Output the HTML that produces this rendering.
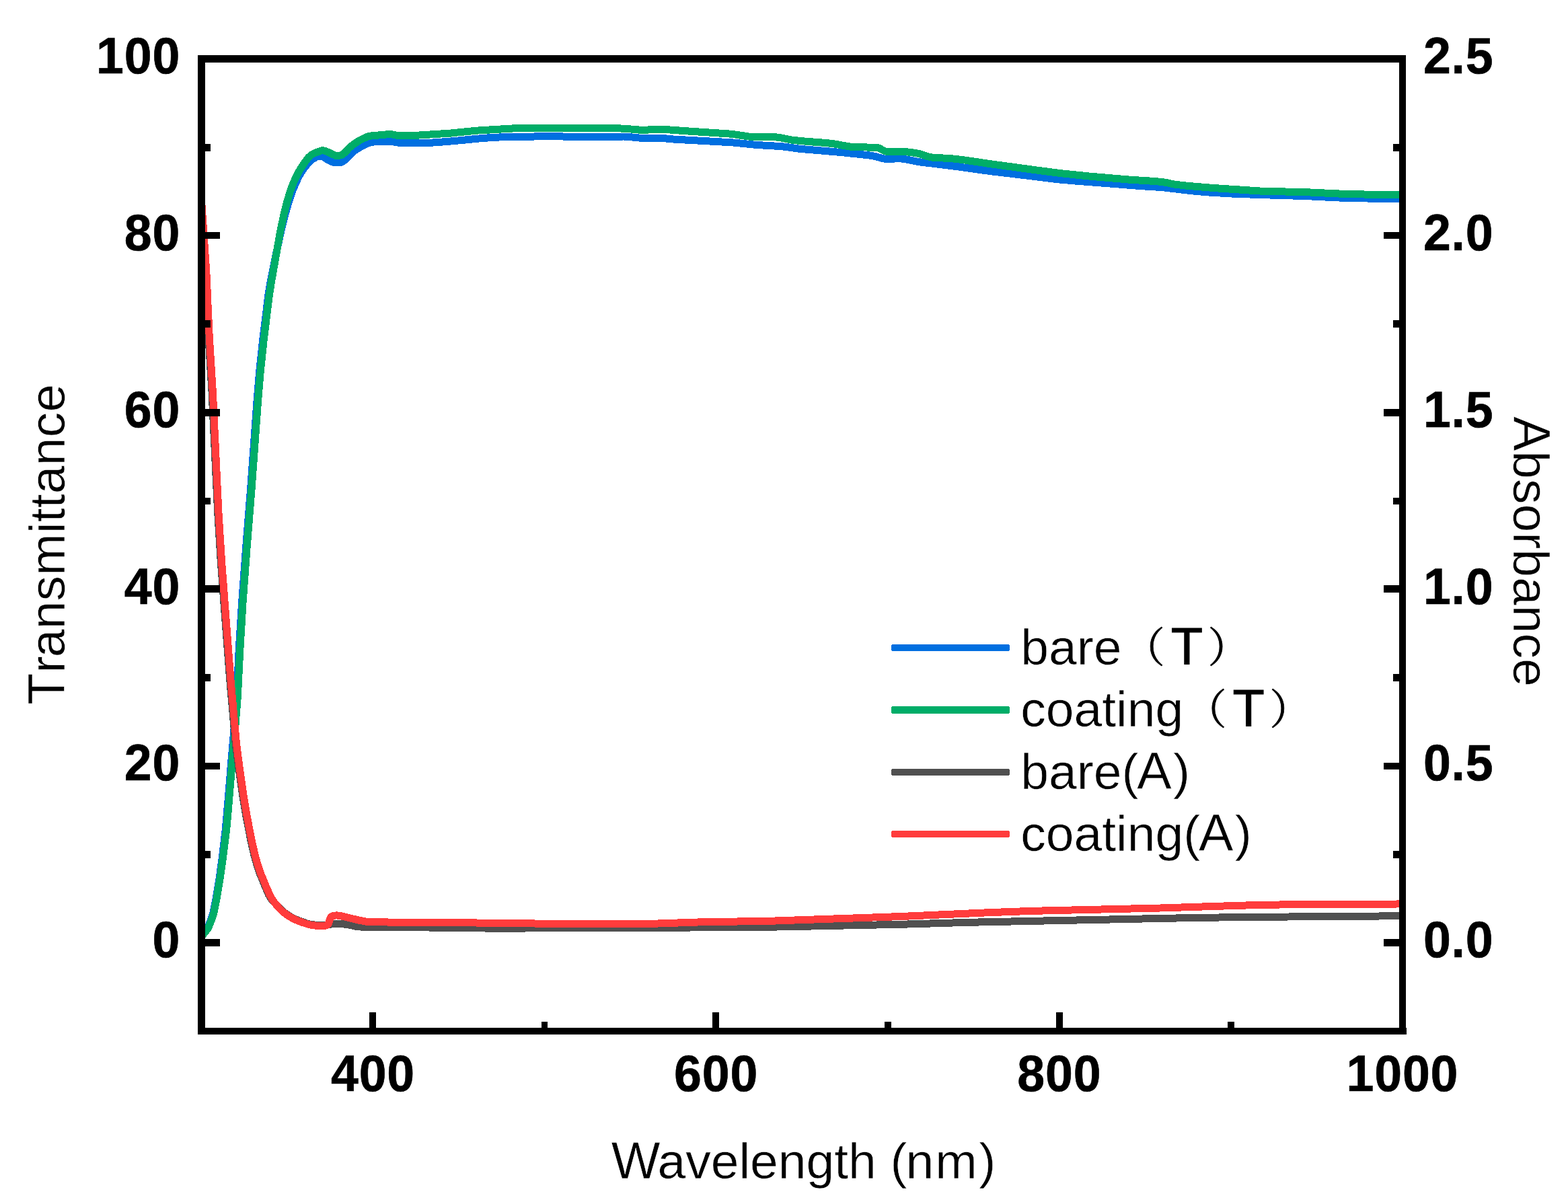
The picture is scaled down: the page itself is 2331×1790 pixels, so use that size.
<!DOCTYPE html>
<html lang="en">
<head>
<meta charset="utf-8">
<title>Transmittance and absorbance spectra</title>
<style>
html,body{margin:0;padding:0;background:#fff;}
body{width:2331px;height:1790px;overflow:hidden;}
svg{display:block;}
text{font-family:"Liberation Sans", "Noto Serif CJK SC", sans-serif;font-size:75px;fill:#000;stroke:#fff;stroke-width:0.5px;}
.tick text{font-weight:700;font-size:73.5px;letter-spacing:0.83px;stroke:#000;stroke-width:0.6px;}
.cap{font-size:77px;}
.capT{font-size:77.5px;stroke:#000;stroke-width:1px;}
.cjk{font-size:62px;stroke:#000;stroke-width:0.7px;}
.curve{fill:none;stroke-width:11;stroke-linejoin:round;stroke-linecap:butt;shape-rendering:crispEdges;}
</style>
</head>
<body>
<svg xmlns="http://www.w3.org/2000/svg" width="2331" height="1790" viewBox="0 0 2331 1790">
<rect x="0" y="0" width="2331" height="1790" fill="#fff"/>
<defs><clipPath id="plot"><rect x="299" y="88" width="1782" height="1445"/></clipPath></defs>
<g clip-path="url(#plot)">
<polyline class="curve" stroke="#006fe0" points="299.5,1392.5 303.6,1386.2 308.0,1380.2 310.2,1375.7 314.8,1364.0 316.9,1356.8 320.9,1337.2 326.2,1305.1 330.6,1272.9 335.5,1230.7 339.8,1180.8 344.1,1128.5 348.0,1083.6 351.8,1036.2 355.2,966.3 359.9,891.4 366.0,809.1 372.6,726.8 382.0,597.0 385.7,552.2 391.0,502.4 399.0,437.9 401.8,420.6 408.6,386.3 417.5,344.7 423.4,320.4 429.7,298.7 434.5,284.5 439.3,273.0 444.7,261.6 448.4,255.2 454.4,247.1 460.9,239.5 462.7,237.7 469.3,233.9 471.6,232.8 474.0,232.4 478.9,232.7 481.2,233.5 485.5,236.4 492.2,240.1 494.5,241.0 499.3,241.9 501.8,242.0 506.8,241.3 509.0,240.5 511.2,239.1 517.0,234.1 523.7,226.6 527.6,223.6 534.0,219.6 545.2,213.8 549.9,212.2 557.2,210.6 562.2,210.5 572.2,210.7 584.7,210.8 594.6,212.5 599.6,212.5 609.6,212.2 642.1,212.1 662.1,210.7 684.5,208.7 709.4,206.2 734.4,204.2 746.8,203.9 784.4,203.8 804.3,202.2 814.3,202.2 861.8,203.9 926.9,203.0 934.3,203.4 949.3,205.0 959.3,205.2 981.8,205.2 1001.7,207.1 1056.7,210.1 1089.1,211.9 1124.0,215.4 1161.4,217.6 1173.8,219.2 1188.7,221.3 1218.6,223.8 1251.0,226.6 1290.8,230.8 1300.7,232.4 1312.9,235.8 1317.8,236.7 1322.7,236.7 1332.7,235.7 1337.7,235.7 1345.1,236.5 1364.8,240.5 1389.6,243.6 1419.4,247.2 1471.4,254.5 1536.0,262.2 1570.8,266.6 1598.2,269.0 1648.1,272.8 1692.9,276.4 1727.9,278.6 1772.6,283.9 1795.0,285.9 1832.5,288.1 1877.5,289.7 1942.5,291.6 1990.0,294.0 2037.5,295.1 2085.0,295.1"/>
<polyline class="curve" stroke="#00ad68" points="299.5,1392.5 307.4,1382.8 308.8,1380.7 311.0,1376.3 315.7,1364.6 317.8,1357.5 321.8,1337.9 327.2,1305.8 331.3,1276.1 336.9,1231.4 340.2,1194.1 345.5,1129.3 349.7,1082.0 353.4,1034.6 356.6,969.7 361.1,894.8 367.4,810.0 374.2,725.3 383.6,595.6 387.1,553.3 392.4,503.6 400.3,439.0 403.4,419.3 416.9,343.0 422.1,318.5 427.0,299.1 431.3,284.7 435.7,273.0 440.8,261.6 445.6,252.8 452.4,242.3 458.4,234.3 462.0,230.9 464.1,229.4 468.5,227.2 478.0,223.8 480.4,223.7 482.8,224.2 489.9,227.1 496.6,230.4 499.0,231.3 501.5,231.5 506.4,230.9 508.7,229.8 512.7,226.8 519.6,219.5 525.4,214.8 533.8,209.2 540.4,205.8 545.0,203.7 547.4,202.8 552.2,201.9 572.2,200.2 577.2,199.6 579.7,199.5 582.1,199.7 589.5,201.2 604.5,201.7 617.0,201.4 669.4,198.1 691.8,195.8 709.2,194.1 771.6,190.4 791.6,190.2 901.6,190.3 929.1,191.2 951.5,193.2 961.5,193.1 976.5,192.4 991.5,192.7 1018.9,194.7 1083.8,199.0 1093.8,200.1 1113.6,203.1 1121.0,203.8 1153.5,203.9 1158.5,204.4 1168.3,206.4 1178.2,208.3 1198.0,210.2 1230.5,212.7 1240.4,214.0 1262.6,217.9 1270.1,218.6 1302.6,219.3 1305.0,219.5 1307.3,220.3 1314.1,224.2 1316.5,225.1 1318.8,225.3 1336.4,225.0 1346.4,225.6 1361.2,227.5 1366.1,228.5 1380.5,233.0 1385.4,234.0 1400.3,234.9 1415.3,235.8 1432.7,237.8 1472.3,243.7 1549.1,254.1 1578.9,257.9 1621.1,262.2 1680.9,267.3 1710.9,269.1 1728.3,270.5 1735.7,271.9 1745.5,274.0 1765.3,276.3 1805.2,279.6 1877.6,284.3 1915.1,285.1 1947.6,286.0 1992.5,288.1 2040.0,289.3 2085.0,289.6"/>
<polyline class="curve" stroke="#505050" points="298.2,298.0 305.6,405.3 309.5,492.7 314.9,580.0 323.7,762.3 328.4,837.2 341.8,1011.7 350.2,1106.3 353.8,1133.6 361.2,1185.6 366.6,1217.6 373.4,1252.0 377.9,1271.5 381.9,1285.9 385.9,1297.7 396.4,1323.3 399.5,1330.2 401.9,1334.5 404.7,1338.5 418.5,1353.1 424.3,1357.8 430.5,1362.1 437.1,1365.7 444.0,1368.6 455.8,1372.8 460.7,1374.1 468.1,1375.1 475.6,1375.4 485.6,1375.0 490.5,1374.3 495.4,1373.4 500.4,1373.1 507.9,1373.5 517.8,1374.8 527.6,1377.0 540.0,1378.4 552.5,1378.8 677.5,1379.1 702.5,1379.5 725.0,1380.1 967.6,1379.7 1052.6,1378.7 1157.6,1378.0 1342.5,1374.2 1440.0,1371.3 1742.5,1365.1 1812.5,1364.0 1967.5,1362.5 2085.0,1361.8"/>
<polyline class="curve" stroke="#ff3c3c" points="299.5,298.0 306.9,405.3 310.8,492.8 316.2,580.2 325.0,762.6 329.7,837.5 343.1,1012.1 351.6,1106.7 355.5,1136.5 362.2,1183.6 367.6,1215.6 374.3,1250.0 379.3,1272.0 383.4,1286.4 387.4,1298.2 396.0,1319.1 401.1,1330.6 404.7,1337.1 409.1,1343.2 415.7,1350.8 421.1,1355.9 427.1,1360.5 433.5,1364.5 440.2,1367.8 449.5,1371.4 459.1,1374.5 464.0,1375.5 471.4,1376.3 481.5,1376.3 484.0,1376.1 486.4,1375.4 488.0,1373.7 490.5,1366.3 491.4,1364.1 493.2,1362.4 495.5,1361.5 498.0,1361.1 500.6,1360.9 505.5,1361.4 522.6,1365.5 534.7,1368.4 544.6,1370.2 549.6,1370.9 599.6,1371.1 694.6,1371.2 722.1,1372.8 899.7,1373.3 972.3,1373.2 1037.3,1371.0 1149.8,1369.1 1337.3,1362.6 1472.3,1356.6 1532.3,1354.4 1724.9,1350.0 1847.4,1346.1 1907.4,1344.9 2030.0,1344.6 2085.0,1343.9"/>
</g>
<g fill="#000" shape-rendering="crispEdges">
<rect x="294" y="82" width="11" height="1456"/>
<rect x="2080" y="82" width="10" height="1456"/>
<rect x="294" y="82" width="1796" height="11"/>
<rect x="294" y="1528" width="1797" height="10"/>
<rect x="305" y="1396" width="22" height="11"/>
<rect x="2057" y="1396" width="23" height="11"/>
<rect x="305" y="1265" width="8" height="11"/>
<rect x="2071" y="1265" width="9" height="11"/>
<rect x="305" y="1134" width="22" height="10"/>
<rect x="2057" y="1134" width="23" height="10"/>
<rect x="305" y="1002" width="8" height="11"/>
<rect x="2071" y="1002" width="9" height="11"/>
<rect x="305" y="870" width="22" height="11"/>
<rect x="2057" y="870" width="23" height="11"/>
<rect x="305" y="740" width="8" height="10"/>
<rect x="2071" y="740" width="9" height="10"/>
<rect x="305" y="608" width="22" height="11"/>
<rect x="2057" y="608" width="23" height="11"/>
<rect x="305" y="476" width="8" height="11"/>
<rect x="2071" y="476" width="9" height="11"/>
<rect x="305" y="345" width="22" height="10"/>
<rect x="2057" y="345" width="23" height="10"/>
<rect x="305" y="214" width="8" height="11"/>
<rect x="2071" y="214" width="9" height="11"/>
<rect x="549" y="1505" width="10" height="23"/>
<rect x="805" y="1519" width="9" height="9"/>
<rect x="1059" y="1505" width="10" height="23"/>
<rect x="1315" y="1519" width="10" height="9"/>
<rect x="1570" y="1505" width="10" height="23"/>
<rect x="1825" y="1519" width="10" height="9"/>
</g>
<g class="tick">
<text transform="translate(268.2 1423.1) scale(1 1.04)" text-anchor="end">0</text>
<text transform="translate(268.2 1160.3) scale(1 1.04)" text-anchor="end">20</text>
<text transform="translate(268.2 897.5) scale(1 1.04)" text-anchor="end">40</text>
<text transform="translate(268.2 634.7) scale(1 1.04)" text-anchor="end">60</text>
<text transform="translate(268.2 371.9) scale(1 1.04)" text-anchor="end">80</text>
<text transform="translate(268.2 109.1) scale(1 1.04)" text-anchor="end">100</text>
<text transform="translate(2115.9 1423.1) scale(1 1.04)">0.0</text>
<text transform="translate(2115.9 1160.3) scale(1 1.04)">0.5</text>
<text transform="translate(2115.9 897.5) scale(1 1.04)">1.0</text>
<text transform="translate(2115.9 634.7) scale(1 1.04)">1.5</text>
<text transform="translate(2115.9 371.9) scale(1 1.04)">2.0</text>
<text transform="translate(2115.9 109.1) scale(1 1.04)">2.5</text>
<text transform="translate(554.5 1621.6) scale(1 1.04)" text-anchor="middle">400</text>
<text transform="translate(1064.6 1621.6) scale(1 1.04)" text-anchor="middle">600</text>
<text transform="translate(1574.8 1621.6) scale(1 1.04)" text-anchor="middle">800</text>
<text transform="translate(2084.9 1621.6) scale(1 1.04)" text-anchor="middle">1000</text>
</g>
<text transform="translate(1190.5 1752.0)" text-anchor="middle"><tspan class="cap" dx="4">W</tspan><tspan dx="-4">avelength (</tspan><tspan dx="-2">n</tspan><tspan dx="2">m</tspan><tspan dx="2.5">)</tspan></text>
<text transform="translate(95.5 811.2) rotate(-90)" text-anchor="middle" letter-spacing="0.2"><tspan class="cap" dx="2">T</tspan>r<tspan dx="-2">ansmittance</tspan></text>
<text transform="translate(2250.3 819.8) rotate(90)" text-anchor="middle"><tspan class="cap">A</tspan>bsorbance</text>
<rect x="1325" y="958" width="176" height="10" rx="3" ry="3" fill="#006fe0" shape-rendering="crispEdges"/>
<text transform="translate(1517.3 988.0)">bare<tspan class="cjk" dx="2.35" dy="-3.1">（</tspan><tspan class="capT" dx="9.0" dy="3.1">T</tspan><tspan class="cjk" dx="7.3" dy="-3.1">）</tspan></text>
<rect x="1325" y="1050" width="176" height="11" rx="3" ry="3" fill="#00ad68" shape-rendering="crispEdges"/>
<text transform="translate(1517.3 1080.3)">coating<tspan class="cjk" dx="2.35" dy="-3.1">（</tspan><tspan class="capT" dx="9.0" dy="3.1">T</tspan><tspan class="cjk" dx="7.3" dy="-3.1">）</tspan></text>
<rect x="1325" y="1143" width="176" height="10" rx="3" ry="3" fill="#505050" shape-rendering="crispEdges"/>
<text transform="translate(1517.3 1173.0)">bare(<tspan class="cap" dx="-2.2">A</tspan><tspan dx="2.5">)</tspan></text>
<rect x="1325" y="1235" width="176" height="10" rx="3" ry="3" fill="#ff3c3c" shape-rendering="crispEdges"/>
<text transform="translate(1517.3 1264.8)">coating(<tspan class="cap" dx="-2.2">A</tspan><tspan dx="2.5">)</tspan></text>
</svg>
</body>
</html>
